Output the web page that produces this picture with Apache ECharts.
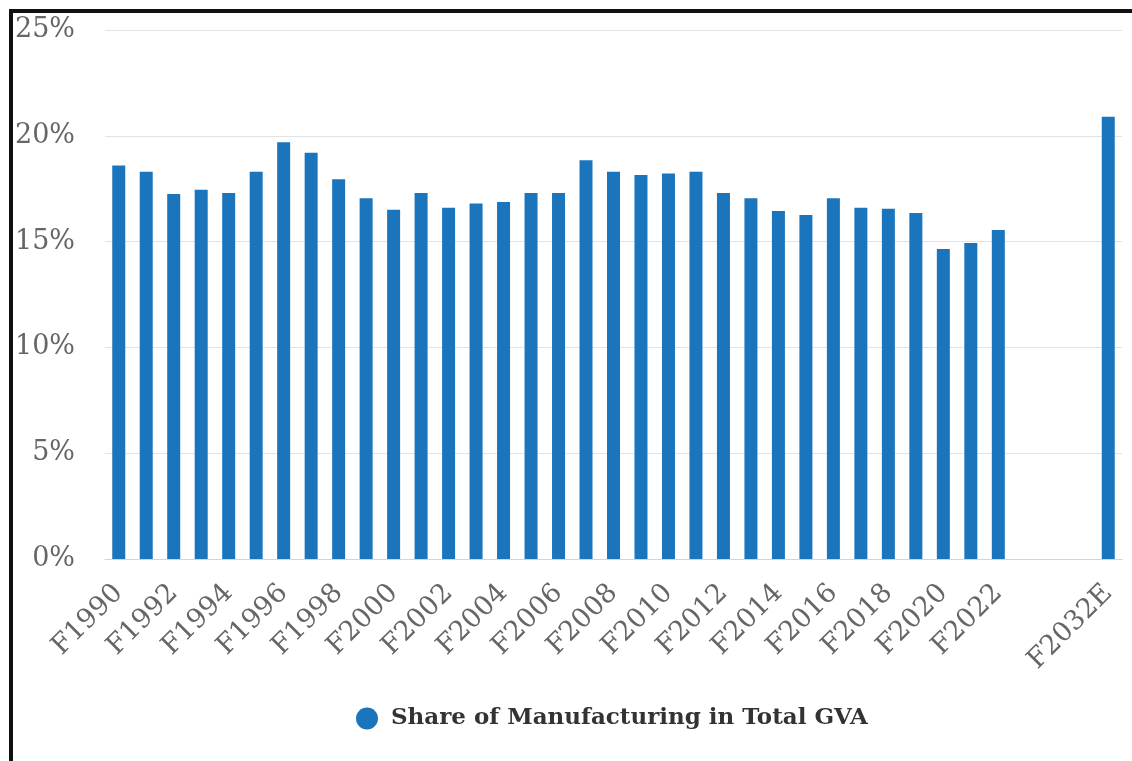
<!DOCTYPE html>
<html>
<head>
<meta charset="utf-8">
<script src="https://cdn.jsdelivr.net/npm/echarts@6/dist/echarts.min.js"></script>
<style>
  html, body { margin: 0; padding: 0; background: #fff; }
  #chart { width: 1132px; height: 761px; }
  #frame { position: absolute; left: 9px; top: 9px; width: 1140px; height: 800px;
           border-top: 4px solid #111; border-left: 4px solid #111; pointer-events: none; }
</style>
</head>
<body>
<div id="chart"></div>
<div id="frame"></div>
<script>
const categories = [
  'F1990','F1991','F1992','F1993','F1994','F1995','F1996','F1997','F1998','F1999',
  'F2000','F2001','F2002','F2003','F2004','F2005','F2006','F2007','F2008','F2009',
  'F2010','F2011','F2012','F2013','F2014','F2015','F2016','F2017','F2018','F2019',
  'F2020','F2021','F2022','','','','F2032E'
];
const shareValues = [
  18.6, 18.3, 17.25, 17.45, 17.3, 18.3, 19.7, 19.2, 17.95, 17.05,
  16.5, 17.3, 16.6, 16.8, 16.87, 17.3, 17.3, 18.85, 18.3, 18.15,
  18.22, 18.3, 17.3, 17.05, 16.45, 16.26, 17.05, 16.6, 16.55, 16.35,
  14.65, 14.93, 15.55, null, null, null, 20.9
];
const seriesName = 'Share of Manufacturing in Total GVA';
const yTicks = { min: 0, max: 25, interval: 5 };

const chart = echarts.init(document.getElementById('chart'), null, { renderer: 'canvas' });
chart.setOption({
  backgroundColor: '#fff',
  animation: false,
  grid: { left: 105, right: 10, top: 30, bottom: 202, containLabel: false },
  legend: {
    left: 351, top: 702,
    icon: 'circle', itemWidth: 22, itemHeight: 22, itemGap: 10,
    textStyle: { fontFamily: 'DejaVu Serif', fontWeight: 'bold', fontSize: 23, color: '#333', padding: [0, 0, 0, 8] },
    data: [seriesName]
  },
  xAxis: {
    type: 'category',
    data: categories,
    axisLine: { show: true, lineStyle: { color: '#d4d4d4', width: 1 } },
    axisTick: { show: false },
    axisLabel: {
      interval: 1, rotate: 45, margin: 30,
      fontFamily: 'DejaVu Serif', fontSize: 27, color: '#666'
    }
  },
  yAxis: {
    type: 'value',
    min: yTicks.min, max: yTicks.max, interval: yTicks.interval,
    axisLine: { show: false }, axisTick: { show: false },
    splitLine: { lineStyle: { color: '#e3e3e3', width: 1 } },
    axisLabel: {
      formatter: v => v + '%', margin: 30,
      fontFamily: 'DejaVu Serif', fontSize: 27, color: '#666'
    }
  },
  series: [{
    name: seriesName,
    type: 'bar',
    data: shareValues,
    barWidth: 13,
    itemStyle: { color: '#1b75bc' }
  }]
});
</script>
</body>
</html>
